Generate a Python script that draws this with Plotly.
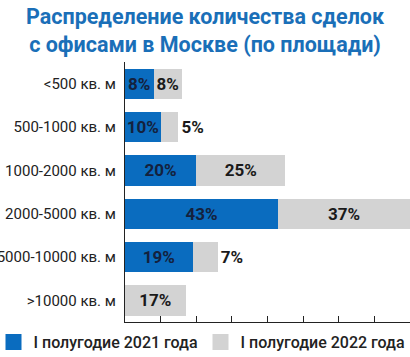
import plotly.graph_objects as go

categories = ["<500 кв. м", "500-1000 кв. м", "1000-2000 кв. м",
              "2000-5000 кв. м", "5000-10000 кв. м", ">10000 кв. м"]
values_2021 = [8, 10, 20, 43, 19, 0]
values_2022 = [8, 5, 25, 37, 7, 17]
series_names = ["I полугодие 2021 года", "I полугодие 2022 года"]
title_lines = ["Распределение количества сделок", "с офисами в Москве (по площади)"]

BLUE = "#0a6cbf"
GRAY = "#d3d3d3"
TXT = "#1a1a1a"
FONT = "Roboto, Liberation Sans, sans-serif"

L, R, T, B = 125, 0, 62, 35
W, H = 410, 357
PW, PH = W - L - R, H - T - B

def labels(vals):
    return [f"{v}%" if v else "" for v in vals]

def positions(vals):
    return ["outside" if 0 < v < 8 else "inside" for v in vals]

fig = go.Figure()
fig.add_trace(go.Bar(
    y=categories, x=values_2021, orientation="h", marker_color=BLUE,
    marker_line_width=0, text=labels(values_2021), textposition="inside",
    insidetextanchor="middle", constraintext="none", textangle=0,
    textfont=dict(family=FONT, size=17, color="#14213d", weight="bold"),
    showlegend=False, hoverinfo="skip"))
fig.add_trace(go.Bar(
    y=categories, x=values_2022, orientation="h", marker_color=GRAY,
    marker_line_width=0, text=labels(values_2022), textposition=positions(values_2022),
    insidetextanchor="middle", constraintext="none", cliponaxis=False, textangle=0,
    textfont=dict(family=FONT, size=17, color=TXT, weight="bold"),
    showlegend=False, hoverinfo="skip"))
for i, (name, col) in enumerate(zip(series_names, [BLUE, GRAY])):
    fig.add_trace(go.Scatter(x=[None], y=[None], mode="markers", name=name,
                             legend="legend" if i == 0 else "legend2",
                             marker=dict(symbol="square", size=16, color=col)))

legend_style = dict(orientation="h", xanchor="left", yanchor="middle",
                    y=(T + PH - 342) / PH,
                    font=dict(family=FONT, size=16, color="#222", weight=500),
                    itemwidth=30, bgcolor="rgba(0,0,0,0)")

fig.update_layout(
    width=W, height=H,
    margin=dict(l=L, r=R, t=T, b=B, autoexpand=False),
    paper_bgcolor="white", plot_bgcolor="white",
    barmode="stack", bargap=0.3,
    annotations=[dict(text="<br>".join(title_lines), xref="paper", yref="paper",
                      x=(205 - L) / PW, y=1.23, xanchor="center", yanchor="top",
                      showarrow=False, align="center",
                      font=dict(family=FONT, size=21.5, color="#1a6fb8", weight="bold"))],
    xaxis=dict(range=[0, 80], dtick=10, ticks="inside", ticklen=6, tickcolor="#222",
               showticklabels=False, showgrid=False, zeroline=False,
               showline=True, linecolor="#222", linewidth=1.2),
    yaxis=dict(autorange="reversed", showgrid=False, zeroline=False, automargin=False,
               showline=True, linecolor="#222", linewidth=1.2, ticks="",
               ticklabelstandoff=5,
               tickfont=dict(family=FONT, size=15, color="#222")),
    legend=dict(x=(-6.5 - L) / PW, **legend_style),
    legend2=dict(x=(200.5 - L) / PW, **legend_style),
)
fig.write_html("out.html", config={"displayModeBar": False},
               post_script="document.body.style.margin='0';document.body.style.overflow='hidden';")
